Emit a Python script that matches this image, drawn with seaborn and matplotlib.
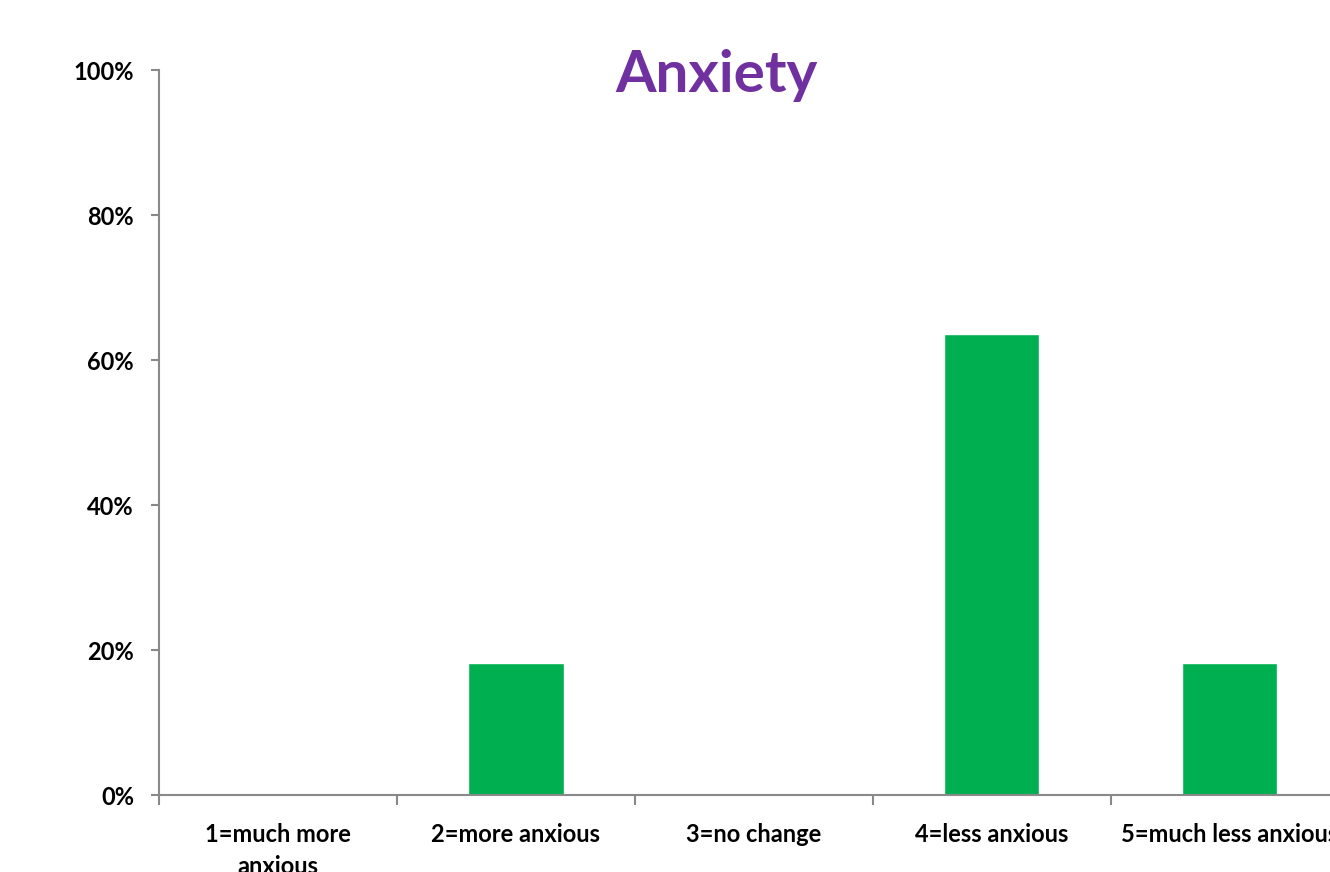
import numpy as np
import pandas as pd
import matplotlib
matplotlib.use("Agg")
import matplotlib.pyplot as plt
from matplotlib.ticker import PercentFormatter
import seaborn as sns

# data
categories = ["1=much more\nanxious", "2=more anxious", "3=no change",
              "4=less anxious", "5=much less anxious"]
shares = [0.0, 18.2, 0.0, 63.6, 18.2]

df = pd.DataFrame({"answer": categories, "share": shares})

sns.set_style("white")
plt.rcParams["font.family"] = ["Lato", "DejaVu Sans"]
plt.rcParams["font.weight"] = "bold"
plt.rcParams["text.color"] = "black"
plt.rcParams["xtick.color"] = "black"
plt.rcParams["ytick.color"] = "black"

fig = plt.figure(figsize=(13.3, 8.72), dpi=100)
ax = fig.add_axes([0.1195, 0.0883, 0.8947, 0.8314])

sns.barplot(data=df, x="answer", y="share", color="#00B050", width=0.4,
            saturation=1, ax=ax)

grey = "#898989"
ax.set_ylim(0, 100)
ax.set_xlim(-0.5, 4.5)
ax.set_yticks([0, 20, 40, 60, 80, 100])
ax.yaxis.set_major_formatter(PercentFormatter(decimals=0))

# category boundaries get the tick marks, labels sit in the middle
ax.set_xticks(np.arange(-0.5, 5, 1))
ax.set_xticklabels([])
ax.set_xticks(np.arange(5), minor=True)
ax.set_xticklabels(categories, minor=True, fontsize=17, fontweight="bold",
                   linespacing=1.5, va="top")
ax.tick_params(axis="x", which="major", direction="out", length=7,
               width=1.5, color=grey, bottom=True)
ax.tick_params(axis="x", which="minor", length=0, pad=20)
ax.tick_params(axis="y", direction="out", length=6, width=1.5, color=grey,
               left=True, labelsize=17, pad=12)
for lbl in ax.get_yticklabels():
    lbl.set_fontweight("bold")

for side in ["top", "right"]:
    ax.spines[side].set_visible(False)
for side in ["left", "bottom"]:
    ax.spines[side].set_color(grey)
    ax.spines[side].set_linewidth(1.5)

ax.set_xlabel("")
ax.set_ylabel("")
fig.text(0.539, 0.913, "Anxiety", ha="center", va="center", fontsize=42,
         fontweight="bold", color="#7030A0")

fig.savefig("out.png", dpi=100)
